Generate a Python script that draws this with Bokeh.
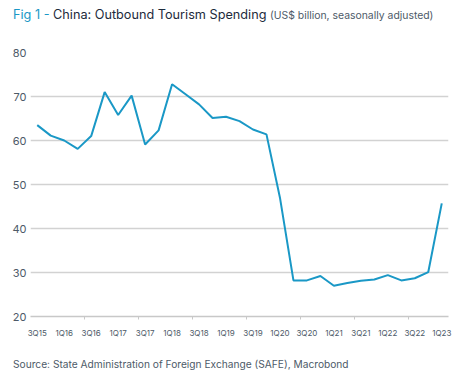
from bokeh.plotting import figure
from bokeh.models import FixedTicker, Div
from bokeh.layouts import column
from bokeh.embed import file_html
from bokeh.resources import INLINE

quarters = ["3Q15", "4Q15", "1Q16", "2Q16", "3Q16", "4Q16", "1Q17", "2Q17", "3Q17", "4Q17",
            "1Q18", "2Q18", "3Q18", "4Q18", "1Q19", "2Q19", "3Q19", "4Q19", "1Q20", "2Q20",
            "3Q20", "4Q20", "1Q21", "2Q21", "3Q21", "4Q21", "1Q22", "2Q22", "3Q22", "4Q22", "1Q23"]
spending = [63.5, 61.1, 60.0, 58.1, 61.0, 71.0, 65.8, 70.2, 59.1, 62.3,
            72.8, 70.5, 68.2, 65.1, 65.4, 64.4, 62.5, 61.4, 47.0, 28.2,
            28.2, 29.2, 27.0, 27.6, 28.1, 28.4, 29.4, 28.2, 28.7, 30.1, 45.7]
y_ticks = [20, 30, 40, 50, 60, 70, 80]

FONT = "Inter"
LABEL_COL = "#4d5a68"
BLUE = "#1a98c6"

idx = list(range(len(quarters)))

title = Div(
    text=(f'<span style="color:{BLUE}">Fig 1 - </span>'
          '<span style="color:#1d2b3c">China: Outbound Tourism Spending</span> '
          f'<span style="color:{LABEL_COL};font-size:10.4px">(US$ billion, seasonally adjusted)</span>'),
    width=459, height=30, margin=0,
    styles={"font-family": FONT, "font-size": "12.7px", "padding-left": "13px",
            "padding-top": "7px", "white-space": "nowrap", "line-height": "16px"})

p = figure(width=459, height=311, output_backend="svg", toolbar_location=None,
           x_range=(-0.5, len(quarters) - 0.5), y_range=(20, 80),
           min_border_left=30, min_border_right=11, min_border_top=22, min_border_bottom=25,
           margin=0)
p.outline_line_color = None
p.background_fill_color = "white"
p.border_fill_color = "white"

p.line(idx, spending, line_color=BLUE, line_width=2)

xt = FixedTicker(ticks=idx[::2], minor_ticks=[i - 0.5 for i in range(4, len(quarters), 4)])
p.xaxis.ticker = xt
p.xaxis.major_label_overrides = {i: quarters[i] for i in idx[::2]}
p.xaxis.major_tick_line_color = None
p.xaxis.major_tick_out = 0
p.xaxis.major_tick_in = 0
p.xaxis.minor_tick_line_color = "#c8c8c8"
p.xaxis.minor_tick_in = 0
p.xaxis.minor_tick_out = 3
p.xaxis.axis_line_color = "#c8c8c8"
p.xaxis.axis_line_width = 1.5
p.xaxis.major_label_text_font = FONT
p.xaxis.major_label_text_font_size = "8px"
p.xaxis.major_label_text_color = LABEL_COL
p.xaxis.major_label_standoff = 8
p.xgrid.grid_line_color = None

p.yaxis.ticker = FixedTicker(ticks=y_ticks)
p.yaxis.axis_line_color = None
p.yaxis.major_tick_line_color = None
p.yaxis.major_tick_out = 0
p.yaxis.major_tick_in = 0
p.yaxis.minor_tick_line_color = None
p.yaxis.major_label_text_font = FONT
p.yaxis.major_label_text_font_size = "11px"
p.yaxis.major_label_text_color = LABEL_COL
p.yaxis.major_label_standoff = 4
p.ygrid.ticker = FixedTicker(ticks=y_ticks[1:])
p.ygrid.grid_line_color = "#d2d2d2"
p.ygrid.grid_line_width = 1.5

source = Div(
    text="Source: State Administration of Foreign Exchange (SAFE), Macrobond",
    width=459, height=36, margin=0,
    styles={"font-family": FONT, "font-size": "10.2px", "color": LABEL_COL,
            "padding-left": "13px", "padding-top": "17px", "white-space": "nowrap",
            "line-height": "12px"})

layout = column(title, p, source, spacing=0, margin=0)

open("out.html", "w").write(file_html(layout, INLINE))
